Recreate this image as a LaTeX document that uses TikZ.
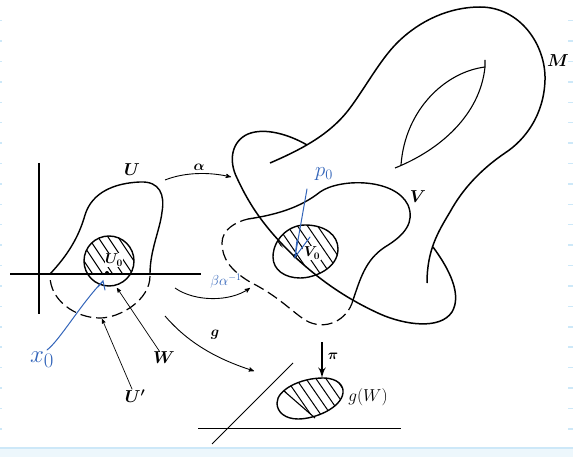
\documentclass[tikz,border=0pt]{standalone}
\usepackage{amsmath}
\usetikzlibrary{arrows}
\definecolor{penblue}{RGB}{50, 100, 185}
\definecolor{tickblue}{RGB}{205, 232, 248}
\newcommand{\Vzeropath}{(273,257) .. controls (273,240) and (288,225) .. (305,225) .. controls (325,225) and (338,235) .. (338,249) .. controls (338,268) and (315,278) .. (300,278) .. controls (285,278) and (273,270) .. (273,257) -- cycle}
\newcommand{\gWpath}{(277,403) .. controls (277,390) and (300,378) .. (323,378) .. controls (338,378) and (344,386) .. (343,393) .. controls (341,408) and (315,419) .. (298,419) .. controls (285,419) and (277,412) .. (277,403) -- cycle}
\tikzset{
    bodyline/.style={line width=1.4pt, line join=round},
    cutline/.style={line width=1.2pt, dash pattern=on 11pt off 5pt},
    hatchline/.style={line width=1pt},
    maparrow/.style={line width=0.9pt, -stealth'},
    leader/.style={line width=0.7pt, -stealth'},
    penline/.style={penblue, line width=1pt, line cap=round},
    tag/.style={inner sep=0pt, font=\LARGE\boldmath},
    smalltag/.style={inner sep=0pt, font=\Large\boldmath},
    pentag/.style={inner sep=0pt, penblue}
}
\begin{document}
\begin{tikzpicture}[x=1pt, y=-1pt]
                \useasboundingbox (0,0) rectangle (573,457);
                \fill[tickblue!35] (0,449) rectangle (573,457);
                \fill[tickblue] (0,447) rectangle (573,449);
                \foreach \ty in {20,40.4,...,440} {
                    \fill[tickblue] (568,\ty) rectangle (573,\ty+1.5);
                    \fill[tickblue] (0,\ty) rectangle (1.5,\ty+1.5);
                }
                % hatching
                \begin{scope}
                    \clip (109,261) circle (25);
                    \clip (70,220) rectangle (150,274);
                    \foreach \hx in {-60,-50,...,70}
                        \draw[hatchline] (\hx+80,225) -- (\hx+120,285);
                \end{scope}
                \begin{scope}
                    \clip \Vzeropath;
                    \clip (277,243) -- (315,273) -- (350,280) -- (350,210) -- (260,210) -- cycle;
                    \foreach \hx in {-60,-50,...,80}
                        \draw[hatchline] (\hx+270,215) -- (\hx+318,285);
                \end{scope}
                \begin{scope}
                    \clip \gWpath;
                    \clip (284,391) -- (315,418) -- (350,418) -- (350,370) -- (275,370) -- cycle;
                    \foreach \hx in {-50,-40,...,80}
                        \draw[hatchline] (\hx+270,370) -- (\hx+308,425);
                \end{scope}
                % axes and the set U
                \draw[bodyline, line width=1.1pt] (39,163) -- (39,314);
                \draw[bodyline, line width=1.1pt] (10,274) -- (201,274);
                \draw[bodyline] (50,274) .. controls (65,258) and (78,240) .. (85,215) .. controls (92,192) and (115,183) .. (140,182) .. controls (160,181) and (165,195) .. (162,212) .. controls (160,230) and (150,250) .. (150,274);
                \draw[cutline] (150,276) .. controls (150,300) and (120,318) .. (100,318) .. controls (75,318) and (50,300) .. (50,276);
                \draw[bodyline] (109,261) circle (25);
                \fill (107,273) circle (2);
                % the surface M
                \draw[bodyline, line width=1.5pt] (270,163) .. controls (300,150) and (330,135) .. (350,108) .. controls (365,88) and (380,60) .. (397,43) .. controls (420,20) and (450,7) .. (480,7) .. controls (520,7) and (546,45) .. (545,80) .. controls (544,115) and (525,140) .. (505,153) .. controls (480,170) and (462,190) .. (450,212) .. controls (438,232) and (427,250) .. (427,283);
                \draw[bodyline, line width=1.5pt] (307,145) .. controls (290,135) and (265,127) .. (248,134) .. controls (232,141) and (228,160) .. (237,178) .. controls (245,195) and (258,222) .. (295,257) .. controls (320,280) and (345,298) .. (380,314) .. controls (405,325) and (440,330) .. (452,312) .. controls (462,295) and (450,270) .. (433,247);
                \draw[bodyline, line width=1.1pt] (485,60) -- (485,67) .. controls (445,72) and (405,110) .. (401,165);
                \draw[bodyline, line width=1.1pt] (395,168) .. controls (440,150) and (480,115) .. (485,67);
                % the set V
                \draw[bodyline] (248,219) .. controls (275,215) and (300,208) .. (320,192) .. controls (340,178) and (395,178) .. (408,205) .. controls (415,222) and (405,235) .. (385,247) .. controls (365,260) and (360,280) .. (353,300);
                \draw[cutline] (353,300) .. controls (348,320) and (325,332) .. (305,320) .. controls (290,310) and (278,296) .. (250,282) .. controls (230,270) and (222,258) .. (222,243) .. controls (222,230) and (235,222) .. (248,219);
                \draw[bodyline] \Vzeropath;
                \fill (295,256) circle (2);
                % the plane below
                \draw[bodyline, line width=1pt] (293,363) -- (212,444);
                \draw[bodyline, line width=1pt] (198,428) -- (401,428);
                \draw[bodyline] \gWpath;
                \draw[hatchline, line width=1.1pt] (284,391) -- (315,418);
                % labels
                \node[tag] (Ulabel) at (132,170) {$U$};
                \node[tag] (Vlabel) at (418,197) {$V$};
                \node[tag] (Mlabel) at (558,61) {$M$};
                \node[tag] (Wlabel) at (164,358) {$W$};
                \node[tag] (Uplabel) at (135,396) {$U'$};
                \node[smalltag, fill=white, inner sep=0.5pt] (Uzero) at (114,260) {$U_0$};
                \node[smalltag, fill=white, inner sep=0.5pt] (Vzero) at (312,253) {$V_0$};
                \node[smalltag] (alphalabel) at (199,167) {$\alpha$};
                \node[smalltag] (glabel) at (215,335) {$g$};
                \node[smalltag] (pilabel) at (333,356) {$\boldsymbol{\pi}$};
                \node[tag, font=\LARGE] (gWlabel) at (368,397) {$g(W)$};
                % arrows
                \coordinate (alphaA) at (165,180);
                \coordinate (alphaB) at (231,177);
                \coordinate (betaA) at (175,288);
                \coordinate (betaB) at (250,288);
                \coordinate (gA) at (165,316);
                \coordinate (gB) at (254,371);
                \coordinate (piA) at (322,342);
                \coordinate (piB) at (322,378);
                \coordinate (Wtip) at (117,288);
                \coordinate (Uptip) at (102,319);
                \draw[maparrow] (alphaA) .. controls (185,172) and (210,172) .. (alphaB);
                \draw[maparrow] (betaA) .. controls (195,302) and (230,302) .. (betaB);
                \draw[maparrow] (gA) .. controls (190,345) and (220,360) .. (gB);
                \draw[line width=2.6pt, -latex'] (piA) -- (piB);
                \draw[leader] (Wlabel) -- (Wtip);
                \draw[leader] (Uplabel) -- (Uptip);
                % pen marks
                \node[pentag, font=\fontsize{28}{30}\selectfont] (xzero) at (42,360) {$x_0$};
                \node[pentag, font=\huge] (pzero) at (324,174) {$p_0$};
                \node[pentag, font=\Large] (betalabel) at (226,281) {$\beta\alpha^{-1}$};
                \coordinate (xtip) at (103,281);
                \coordinate (ptip) at (295,257);
                \draw[penline] (47,350) .. controls (60,340) and (80,305) .. (xtip);
                \draw[penline] (98,287) -- (xtip) -- (105,290);
                \draw[penline] (307,189) -- (ptip);
                \draw[penline] (297,240) -- (ptip) -- (310,237);
            \end{tikzpicture}
\end{document}
